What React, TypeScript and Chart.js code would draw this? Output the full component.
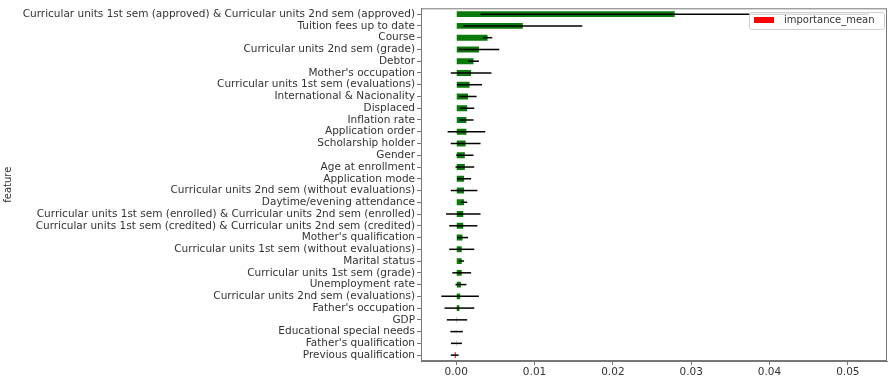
import React, { useEffect, useRef } from "react";
import { Chart, registerables } from "chart.js";

Chart.register(...registerables);

const features = [
  "Curricular units 1st sem (approved) & Curricular units 2nd sem (approved)",
  "Tuition fees up to date",
  "Course",
  "Curricular units 2nd sem (grade)",
  "Debtor",
  "Mother's occupation",
  "Curricular units 1st sem (evaluations)",
  "International & Nacionality",
  "Displaced",
  "Inflation rate",
  "Application order",
  "Scholarship holder",
  "Gender",
  "Age at enrollment",
  "Application mode",
  "Curricular units 2nd sem (without evaluations)",
  "Daytime/evening attendance",
  "Curricular units 1st sem (enrolled) & Curricular units 2nd sem (enrolled)",
  "Curricular units 1st sem (credited) & Curricular units 2nd sem (credited)",
  "Mother's qualification",
  "Curricular units 1st sem (without evaluations)",
  "Marital status",
  "Curricular units 1st sem (grade)",
  "Unemployment rate",
  "Curricular units 2nd sem (evaluations)",
  "Father's occupation",
  "GDP",
  "Educational special needs",
  "Father's qualification",
  "Previous qualification",
];

const importanceMean = [
  0.0279, 0.0085, 0.004, 0.0029, 0.0022, 0.0019, 0.0017, 0.0015, 0.0014, 0.0013,
  0.0013, 0.0012, 0.0011, 0.0011, 0.001, 0.001, 0.001, 0.0009, 0.0009, 0.0008,
  0.0007, 0.0007, 0.0007, 0.0006, 0.0005, 0.0004, 0.0001, 0.00005, 0.00003, -0.0002,
];

const importanceStd = [
  0.0248, 0.0076, 0.0006, 0.0026, 0.0007, 0.0026, 0.0016, 0.0011, 0.0009, 0.0009,
  0.0024, 0.0019, 0.0011, 0.0012, 0.0009, 0.0017, 0.0004, 0.0022, 0.0018, 0.0007,
  0.0016, 0.0003, 0.0012, 0.0007, 0.0024, 0.0019, 0.0013, 0.0008, 0.0007, 0.0005,
];

const xTicks = [0, 0.01, 0.02, 0.03, 0.04, 0.05];

const FONT = "'DejaVu Sans', sans-serif";
const TEXT = "#333";
const SPINE = "#777";

const errorBars = {
  id: "errorBars",
  afterDatasetsDraw(chart: any) {
    const ctx = chart.ctx;
    const xs = chart.scales.x;
    const meta = chart.getDatasetMeta(0);
    ctx.save();
    ctx.strokeStyle = "#000";
    ctx.lineWidth = 1.5;
    meta.data.forEach((el: any, i: number) => {
      const m = importanceMean[i];
      const s = importanceStd[i];
      const y = el.y;
      ctx.beginPath();
      ctx.moveTo(xs.getPixelForValue(m - s), y);
      ctx.lineTo(xs.getPixelForValue(m + s), y);
      ctx.stroke();
    });
    ctx.restore();
  },
};

const frameAndLegend = {
  id: "frameAndLegend",
  afterDraw(chart: any) {
    const ctx = chart.ctx;
    const a = chart.chartArea;
    ctx.save();
    ctx.strokeStyle = SPINE;
    ctx.lineWidth = 1;
    ctx.strokeRect(a.left + 0.5, a.top + 0.5, a.right - a.left - 1, a.bottom - a.top - 1);
    // legend
    const bx = 749, by = 12, bw = 135, bh = 17;
    ctx.fillStyle = "rgba(255,255,255,0.85)";
    ctx.strokeStyle = "#d0d0d0";
    ctx.beginPath();
    ctx.roundRect(bx + 0.5, by + 0.5, bw, bh, 2);
    ctx.fill();
    ctx.stroke();
    ctx.fillStyle = "red";
    ctx.fillRect(bx + 5, by + 5, 20, 6);
    ctx.fillStyle = TEXT;
    ctx.font = `10px ${FONT}`;
    ctx.textBaseline = "middle";
    ctx.textAlign = "left";
    ctx.fillText(chart.data.datasets[0].label, bx + 35, by + 8.5);
    ctx.restore();
  },
};

export default function App() {
  const ref = useRef<HTMLCanvasElement>(null);
  useEffect(() => {
    document.body.style.margin = "0";
    const chart = new Chart(ref.current as HTMLCanvasElement, {
      type: "bar",
      data: {
        labels: features,
        datasets: [
          {
            label: "importance_mean",
            data: importanceMean,
            backgroundColor: importanceMean.map((v) => (v < 0 ? "#e00000" : "#0a7a0a")),
            borderWidth: 0,
            barPercentage: 0.5,
            categoryPercentage: 1,
          },
        ],
      },
      options: {
        indexAxis: "y",
        responsive: false,
        animation: false,
        layout: { padding: { left: 0, right: 2, top: 8, bottom: 0 } },
        plugins: { legend: { display: false }, tooltip: { enabled: false } },
        scales: {
          x: {
            type: "linear",
            min: -0.0045,
            max: 0.055,
            afterFit(scale: any) {
              scale.height = 15;
            },
            afterBuildTicks(scale: any) {
              scale.ticks = xTicks.map((v) => ({ value: v }));
            },
            ticks: {
              font: { family: FONT, size: 10.5 },
              color: TEXT,
              padding: 1,
              maxRotation: 0,
              callback: (v: any) => Number(v).toFixed(2),
            },
            grid: { drawOnChartArea: false, tickLength: 4, color: SPINE },
            border: { color: SPINE },
          },
          y: {
            type: "category",
            offset: true,
            afterFit(scale: any) {
              scale.width = 421;
            },
            ticks: {
              font: { family: FONT, size: 10.5 },
              color: TEXT,
              padding: 2,
              autoSkip: false,
            },
            grid: { drawOnChartArea: false, tickLength: 4, color: SPINE, offset: false },
            border: { color: SPINE },
            title: {
              display: true,
              text: "feature",
              font: { family: FONT, size: 10 },
              color: TEXT,
              padding: { top: 2, bottom: 0 },
            },
          },
        },
      },
      plugins: [errorBars, frameAndLegend],
    });
    return () => chart.destroy();
  }, []);
  return (
    <div style={{ position: "fixed", left: 0, top: 0, width: 889, height: 376, background: "#fff" }}>
      <canvas ref={ref} width={889} height={376} style={{ width: 889, height: 376 }} />
    </div>
  );
}
